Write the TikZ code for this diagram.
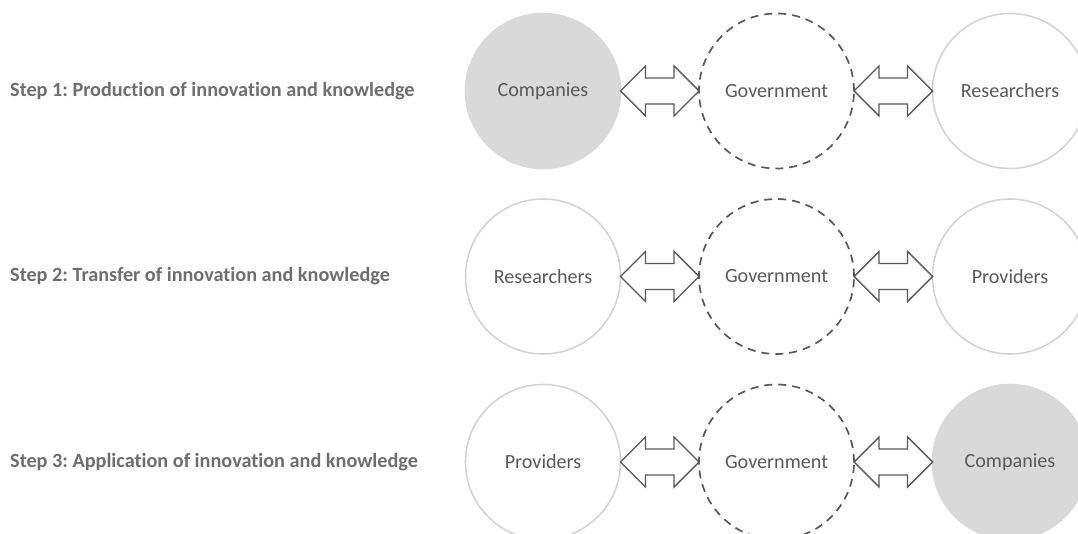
\documentclass[tikz,border=0pt]{standalone}
\usepackage{fontspec}
\setmainfont[Ligatures={NoCommon}]{Carlito}
\usetikzlibrary{positioning, calc}
\frenchspacing

\definecolor{txtgray}{HTML}{595959}
\definecolor{stepgray}{HTML}{6E6E6E}
\definecolor{ringgray}{HTML}{D4D4D4}
\definecolor{fillgray}{HTML}{D9D9D9}

\tikzset{
  actor/.style={circle, minimum size=155bp, inner sep=0pt, outer sep=0pt,
    draw=ringgray, line width=1.6bp, text=txtgray, font=\fontsize{20.2}{22}\selectfont},
  lead/.style={actor, fill=fillgray, draw=fillgray},
  gov/.style={actor, draw=txtgray, line width=1.7bp, dash pattern=on 8bp off 6bp},
  steplabel/.style={anchor=west, text=stepgray, inner sep=0pt,
    font=\bfseries\fontsize{20.3}{22}\selectfont},
  exchange/.style={draw=txtgray, fill=white, line width=1.4bp, line join=miter},
}

% two-headed block arrow between two neighbouring circles
\newcommand{\twoway}[2]{%
  \draw[exchange] (#1.east) -- ++(25,25) -- ++(0,-12)
    -- ($(#2.west)+(-25,13)$) -- ++(0,12) -- (#2.west)
    -- ++(-25,-25) -- ++(0,12) -- ($(#1.east)+(25,-13)$)
    -- ++(0,-12) -- cycle;
}

\begin{document}
\begin{tikzpicture}[x=1bp, y=-1bp, node distance=78.5bp]
  \clip (0,0) rectangle (1078,534);

  % step 1
  \node[steplabel] (s1) at (10,91) {Step 1: Production of innovation and knowledge};
  \node[lead] (c1) at (543,91) {Companies};
  \node[gov] (g1) [right=of c1] {Government};
  \node[actor] (r1) [right=of g1] {Researchers};

  % step 2
  \node[steplabel] (s2) at (10,276.5) {Step 2: Transfer of innovation and knowledge};
  \node[actor] (c2) at (543,276.5) {Researchers};
  \node[gov] (g2) [right=of c2] {Government};
  \node[actor] (r2) [right=of g2] {Providers};

  % step 3
  \node[steplabel] (s3) at (10,462) {Step 3: Application of innovation and knowledge};
  \node[actor] (c3) at (543,462) {Providers};
  \node[gov] (g3) [right=of c3] {Government};
  \node[lead] (r3) [right=of g3] {Companies};

  \twoway{c1}{g1} \twoway{g1}{r1}
  \twoway{c2}{g2} \twoway{g2}{r2}
  \twoway{c3}{g3} \twoway{g3}{r3}
\end{tikzpicture}
\end{document}
